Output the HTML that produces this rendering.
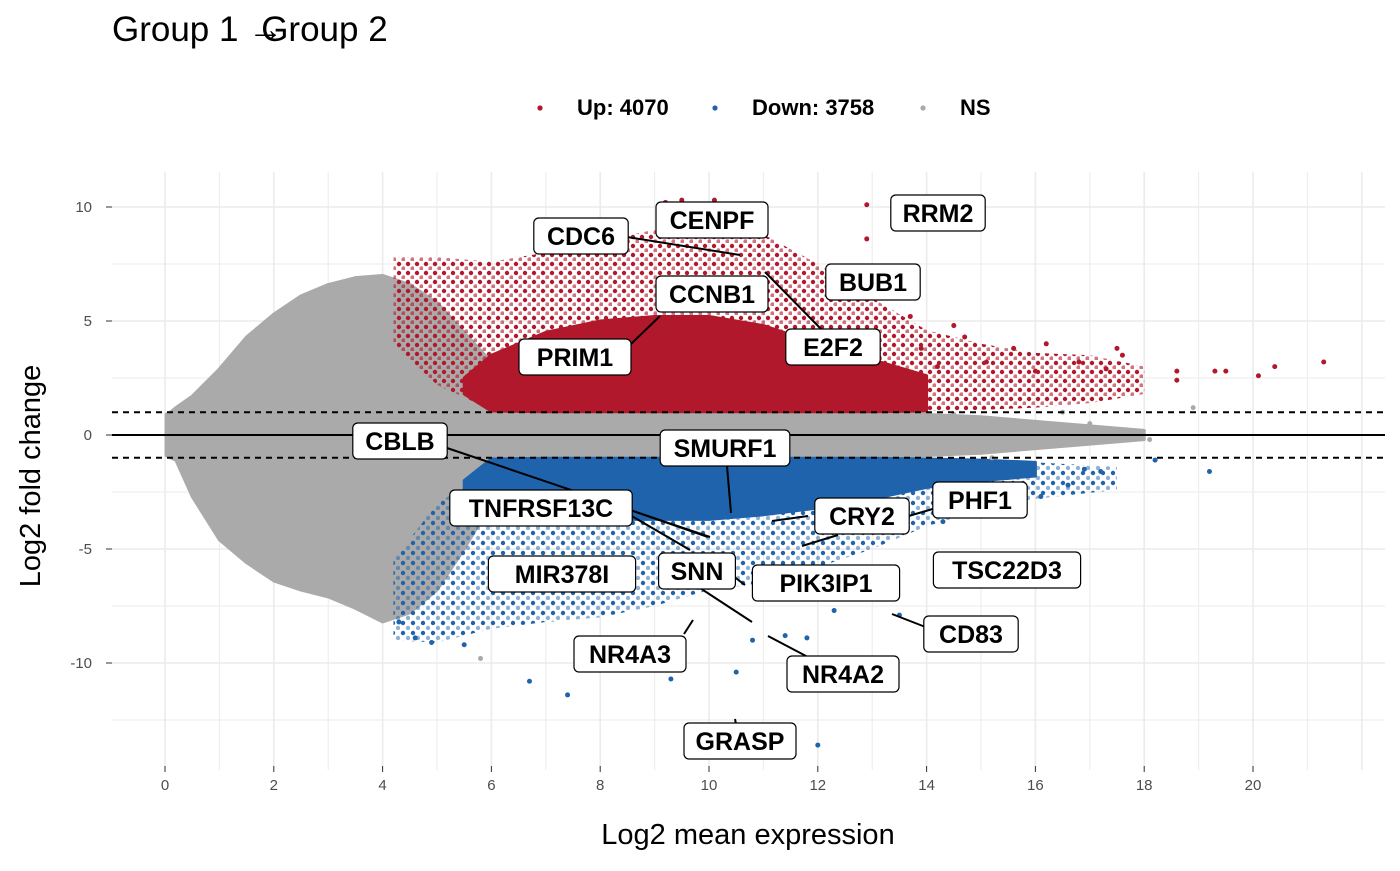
<!DOCTYPE html>
<html><head><meta charset="utf-8">
<style>
body{margin:0;background:#fff;font-family:"Liberation Sans",sans-serif;}
svg text{font-family:"Liberation Sans",sans-serif;}
</style></head>
<body>
<svg id="chart" width="1400" height="866" xmlns="http://www.w3.org/2000/svg">
<defs>
<pattern id="redDots" width="9" height="9" patternUnits="userSpaceOnUse"><circle cx="3" cy="3" r="2.2" fill="#b2182b"/><circle cx="7.5" cy="7.5" r="2.2" fill="#b2182b" opacity="0.6"/></pattern>
<pattern id="blueDots" width="10" height="10" patternUnits="userSpaceOnUse"><circle cx="3" cy="3" r="2.2" fill="#1f63ad"/><circle cx="8" cy="8" r="2.2" fill="#1f63ad" opacity="0.5"/></pattern>
</defs>
<text x="112" y="41" font-size="35" fill="#000">Group 1 <tspan>→</tspan><tspan dx="-22">Group 2</tspan></text>
<g>
<circle cx="540" cy="108" r="2.6" fill="#b2182b"/>
<text x="577" y="115" font-size="22" font-weight="bold">Up: 4070</text>
<circle cx="715" cy="108" r="2.6" fill="#1f63ad"/>
<text x="752" y="115" font-size="22" font-weight="bold">Down: 3758</text>
<circle cx="923" cy="108" r="2.6" fill="#aaaaaa"/>
<text x="960" y="115" font-size="22" font-weight="bold">NS</text>
</g>
<g id="grid"></g>
<g id="marks"></g>
<g id="refs"></g>
<g id="labels"></g>
<g id="axes"></g>
<text x="748" y="844" font-size="29" text-anchor="middle">Log2 mean expression</text>
<text transform="translate(40,476) rotate(-90)" font-size="29" text-anchor="middle">Log2 fold change</text>
</svg>
<script>
const xTicks=[0,2,4,6,8,10,12,14,16,18,20];
const yTicks=[10,5,0,-5,-10];
// gray NS dense envelope
const nsX=[0.02,0.1,0.2,0.5,1,1.5,2,2.5,3,3.5,4,4.5,5,5.5,6,7,8,9,10,11,12,13,14,15,16,17,18];
const nsUp=[0.9,1.0,1.2,1.7,2.9,4.3,5.3,6.1,6.6,6.9,7.0,6.6,5.8,4.5,3.2,2.2,1.8,1.5,1.3,1.2,1.1,1.0,0.9,0.8,0.6,0.4,0.2];
const nsLo=[-0.9,-1.0,-1.1,-2.7,-4.6,-5.6,-6.4,-6.8,-7.1,-7.6,-8.2,-7.8,-6.8,-5.0,-3.0,-2.0,-1.6,-1.4,-1.3,-1.2,-1.1,-1.0,-0.9,-0.8,-0.6,-0.4,-0.2];
// red sparse + core
const upSparseX=[4.2,5,6,7,8,9,10,11,12,13,14,15,16,17,18];
const upSparseHi=[7.8,7.8,7.6,8,8.5,9,9.5,8.8,7.5,6,4.6,4,3.6,3.5,3];
const upSparseLo=[4,2.2,1.1,1.05,1.05,1.05,1.05,1.05,1.05,1.05,1.05,1.1,1.2,1.4,1.8];
const upCoreX=[5.5,6,7,8,9,10,11,12,13,14];
const upCoreHi=[2.5,3.5,4.5,5.0,5.2,5.2,4.8,4.0,3.3,2.6];
const upCoreLo=[1.8,1.05,1.02,1.02,1.02,1.02,1.02,1.02,1.02,1.05];
// blue sparse + core
const downSparseX=[4.2,5,6,7,8,9,10,11,12,13,14,15,16,17.5];
const downSparseHi=[-5.5,-3,-1.5,-1.05,-1.05,-1.05,-1.05,-1.05,-1.05,-1.05,-1.05,-1.1,-1.2,-1.4];
const downSparseLo=[-9,-9.1,-8.5,-8.2,-8,-7.5,-6.8,-6.5,-5.8,-5,-4,-3.3,-2.8,-2.4];
const downCoreX=[5.5,6,7,8,9,10,11,12,13,14,15,16];
const downCoreHi=[-2.0,-1.05,-1.02,-1.02,-1.02,-1.02,-1.02,-1.02,-1.02,-1.05,-1.1,-1.2];
const downCoreLo=[-2.6,-3.2,-3.6,-3.7,-3.7,-3.7,-3.5,-3.2,-2.8,-2.3,-2.0,-1.8];
// outliers
const upOutX=[12.9,12.9,21.3,20.4,20.1,19.5,19.3,18.6,18.6,17.5,17.6,17.3,16.8,16.2,15.6,14.5,14.7,13.7,13.9,9.2,9.5,10.1,14.2,15.1,16.0];
const upOutY=[10.1,8.6,3.2,3.0,2.6,2.8,2.8,2.8,2.4,3.8,3.5,2.9,3.2,4.0,3.8,4.8,4.3,5.2,3.8,10.2,10.3,10.3,3.0,3.2,2.8];
const downOutX=[19.2,18.2,17.2,16.6,16.1,14.3,13.5,12.3,11.8,11.4,10.5,9.3,7.4,6.7,12.0,10.8,5.5,4.9,4.6,4.3,15.4,16.9];
const downOutY=[-1.6,-1.1,-1.6,-2.2,-2.7,-3.8,-7.9,-7.7,-8.9,-8.8,-10.4,-10.7,-11.4,-10.8,-13.6,-9.0,-9.2,-9.1,-8.9,-8.2,-1.8,-1.5];
const nsOutX=[5.8,18.9,18.1,16.5,14.5,15.2,17.0];
const nsOutY=[-9.8,1.2,-0.2,1.0,0.9,-1.0,0.5];

const NS='http://www.w3.org/2000/svg';
const X0=112,X1=1385,Y0=172,Y1=770;
const sx=v=>165+v*54.4, sy=v=>435-v*22.8;
function mk(t,a,p){const e=document.createElementNS(NS,t);for(const k in a)e.setAttribute(k,a[k]);p.appendChild(e);return e;}
const grid=document.getElementById('grid'),marks=document.getElementById('marks'),refs=document.getElementById('refs'),axes=document.getElementById('axes'),labels=document.getElementById('labels');
for(let v=0;v<=22;v++){const x=sx(v);if(x>X1)break;const l=mk('line',{x1:x,x2:x,y1:Y0,y2:Y1,stroke:'#ebebeb','stroke-width':v%2?1:1.6},grid);
}
for(let v=-12.5;v<=12.5;v+=2.5){const y=sy(v);if(y<Y0||y>Y1)continue;const l=mk('line',{x1:X0,x2:X1,y1:y,y2:y,stroke:'#ebebeb','stroke-width':(v%5===0)?1.6:1},grid);
}
xTicks.forEach(v=>{const x=sx(v);mk('line',{x1:x,x2:x,y1:Y1-4,y2:Y1+2,stroke:'#333'},axes);
const t=mk('text',{x:x,y:Y1+20,'font-size':15,fill:'#4d4d4d','text-anchor':'middle'},axes);t.textContent=v;
});
yTicks.forEach(v=>{const y=sy(v);mk('line',{x1:X0-6,x2:X0,y1:y,y2:y,stroke:'#333'},axes);
const t=mk('text',{x:X0-20,y:y+5,'font-size':15,fill:'#4d4d4d','text-anchor':'end'},axes);t.textContent=v;
});
function env(xs,hi,lo,fill,name){let d='M'+xs.map((x,i)=>sx(x)+','+sy(hi[i])).join('L');
for(let i=xs.length-1;i>=0;i--)d+='L'+sx(xs[i])+','+sy(lo[i]);d+='Z';
const p=mk('path',{d:d,fill:fill,stroke:fill.startsWith('url')?'none':fill,'stroke-width':3,'stroke-linejoin':'round'},marks);
}
env(nsX,nsUp,nsLo,'#aaaaaa','ns-density');
env(upSparseX,upSparseHi,upSparseLo,'url(#redDots)','up-sparse');
env(upCoreX,upCoreHi,upCoreLo,'#b2182b','up-core');
env(downSparseX,downSparseHi,downSparseLo,'url(#blueDots)','down-sparse');
env(downCoreX,downCoreHi,downCoreLo,'#1f63ad','down-core');
function pts(xs,ys,c,name){xs.forEach((x,i)=>{const e=mk('circle',{cx:sx(x),cy:sy(ys[i]),r:2.5,fill:c},marks);
});}
pts(nsOutX,nsOutY,'#aaaaaa','ns-point');pts(upOutX,upOutY,'#b2182b','up-point');pts(downOutX,downOutY,'#1f63ad','down-point');
[[1,'6 5','threshold-up'],[-1,'6 5','threshold-down'],[0,null,'zero-line']].forEach(([v,da,n])=>{const a={x1:X0,x2:X1,y1:sy(v),y2:sy(v),stroke:'#000','stroke-width':2};if(da)a['stroke-dasharray']=da;
const l=mk('line',a,refs);});
// gene labels [name, cx, cy, lines]
const genes=[['CDC6',581,236,[[627,237,740,255]]],['CENPF',712,220,[]],['RRM2',938,213,[]],['BUB1',873,282,[]],
['CCNB1',712,294,[[630,345,660,316]]],['PRIM1',575,357,[]],['E2F2',833,347,[[822,330,765,272]]],
['CBLB',400,441,[[447,448,710,537]]],['SMURF1',725,448,[[727,466,731,513]]],['TNFRSF13C',541,508,[[630,510,708,537],[630,515,690,550]]],
['SNN',697,571,[[733,576,745,585],[700,588,752,622]]],['MIR378I',562,574,[]],['CRY2',862,516,[[808,516,772,521]]],['PHF1',980,500,[[936,508,895,520]]],
['PIK3IP1',826,583,[[838,535,802,546]]],['TSC22D3',1007,570,[]],['CD83',971,634,[[928,628,892,614]]],['NR4A3',630,654,[[684,634,693,620]]],
['NR4A2',843,674,[[806,656,768,636]]],['GRASP',740,741,[[736,724,735,719]]]];
genes.forEach(([g,cx,cy,ls])=>{ls.forEach(s=>{const l=mk('line',{x1:s[0],y1:s[1],x2:s[2],y2:s[3],stroke:'#000','stroke-width':2},labels);
});});
genes.forEach(([g,cx,cy])=>{const w=g.length*17.6+24,h=36;
const r=mk('rect',{x:cx-w/2,y:cy-h/2,width:w,height:h,rx:5,fill:'#fff',stroke:'#000','stroke-width':1.2},labels);

const t=mk('text',{x:cx,y:cy+9,'font-size':25,'font-weight':'bold','text-anchor':'middle'},labels);t.textContent=g;
});
</script>
</body></html>
